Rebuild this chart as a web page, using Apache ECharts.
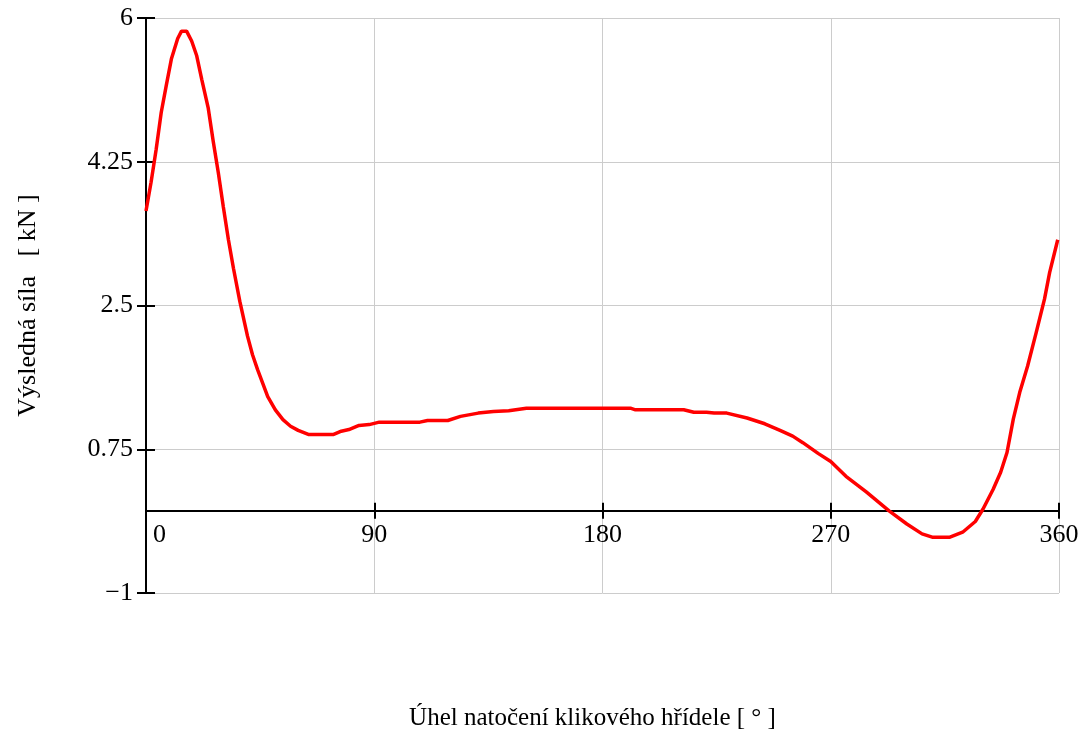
<!DOCTYPE html>
<html>
<head>
<meta charset="utf-8">
<title>Výsledná síla</title>
<style>
html,body{margin:0;padding:0;background:#fff;}
#main{width:1090px;height:729px;}
</style>
</head>
<body>
<div id="main"></div>
<script src="https://cdn.jsdelivr.net/npm/echarts@6/dist/echarts.min.js"></script>
<script type="text/javascript">
// úhel klikového hřídele [°]
var angles = [0, 2, 4, 6, 8, 10, 12.5, 14, 16, 18, 20, 22, 24.5, 26.5, 28.5, 30.5, 32.5, 34.5, 37, 40,
  42, 44, 48, 51, 54, 57, 60, 64, 74, 77, 80, 84, 88, 92, 108, 111, 119, 124, 131, 137,
  143, 150, 191, 193, 212, 216, 221, 224, 229, 237, 244, 250, 255, 259, 265, 270, 276, 284, 293, 300,
  306, 310, 317, 322, 327, 330, 334, 337, 339.5, 342, 344.5, 347.6, 351, 354.3, 356.3, 359.5];
// výsledná síla [kN]
var forces = [3.65, 4.0, 4.4, 4.85, 5.18, 5.5, 5.75, 5.84, 5.84, 5.72, 5.54, 5.25, 4.91, 4.5, 4.12, 3.7, 3.3, 2.95, 2.55, 2.13,
  1.9, 1.72, 1.39, 1.23, 1.11, 1.03, 0.98, 0.93, 0.93, 0.97, 0.99, 1.04, 1.05, 1.08, 1.08, 1.10, 1.10, 1.15, 1.19, 1.21,
  1.22, 1.25, 1.25, 1.23, 1.23, 1.20, 1.20, 1.19, 1.19, 1.13, 1.06, 0.98, 0.91, 0.83, 0.70, 0.60, 0.42, 0.23, 0.0, -0.16,
  -0.28, -0.32, -0.32, -0.26, -0.13, 0.02, 0.26, 0.47, 0.71, 1.12, 1.44, 1.76, 2.17, 2.58, 2.90, 3.30];
var xTicks = [0, 90, 180, 270, 360];
var yTicks = [-1, 0.75, 2.5, 4.25, 6];

var serif = '"Liberation Serif", "DejaVu Serif", serif';
var data = angles.map(function (a, i) { return [a, forces[i]]; });

var yMin = yTicks[0], yMax = yTicks[yTicks.length - 1];
var chartH = 729, gridTop = 18, gridBottom = 136;
// poloha nulové osy x (popisky os jsou u ní, ne u spodního okraje)
var zeroY = gridTop + (chartH - gridTop - gridBottom) * yMax / (yMax - yMin);
var gridBox = { left: 146, right: 31, top: gridTop, bottom: gridBottom, outerBoundsMode: 'none', containLabel: false };

var myChart = echarts.init(document.getElementById('main'));
var option = {
    animation: false,
    grid: [
        gridBox,
        Object.assign({}, gridBox),                            // značky dovnitř
        Object.assign({}, gridBox, { bottom: chartH - zeroY })  // popisky u nuly
    ],
    xAxis: [
        {
            gridIndex: 0, type: 'value',
            min: xTicks[0], max: xTicks[xTicks.length - 1], interval: 90,
            axisLine: { onZero: true, lineStyle: { color: '#000', width: 2 } },
            axisTick: { inside: false, length: 8, lineStyle: { color: '#000', width: 2 } },
            axisLabel: { show: false },
            splitLine: { show: true, lineStyle: { color: '#cccccc', width: 1 } }
        },
        {
            gridIndex: 1, type: 'value',
            min: xTicks[0], max: xTicks[xTicks.length - 1], interval: 90,
            axisLine: { onZero: true, lineStyle: { color: '#000', width: 2 } },
            axisTick: { inside: true, length: 8, lineStyle: { color: '#000', width: 2 } },
            axisLabel: { show: false },
            splitLine: { show: false }
        },
        {
            gridIndex: 2, type: 'value', position: 'bottom',
            min: xTicks[0], max: xTicks[xTicks.length - 1], interval: 90,
            name: 'Úhel natočení klikového hřídele [ ° ]',
            nameLocation: 'middle', nameGap: 195,
            nameTextStyle: { fontFamily: serif, fontSize: 25, color: '#000', padding: [0, 20, 0, 0] },
            axisLine: { show: false, onZero: false },
            axisTick: { show: false },
            axisLabel: {
                fontFamily: serif, fontSize: 26, color: '#000', margin: 11, alignMinLabel: 'left',
                showMinLabel: true, showMaxLabel: true,
                formatter: function (v) { return v === 0 ? '{z|0}' : String(v); },
                rich: { z: { fontFamily: serif, fontSize: 26, color: '#000', padding: [0, 0, 0, 7] } }
            },
            splitLine: { show: false }
        }
    ],
    yAxis: [
        {
            gridIndex: 0, type: 'value',
            min: yMin, max: yMax, interval: 1.75,
            name: 'Výsledná síla   [ kN ]',
            nameLocation: 'middle', nameGap: 105,
            nameTextStyle: { fontFamily: serif, fontSize: 26, color: '#000' },
            axisLine: { onZero: false, lineStyle: { color: '#000', width: 2 } },
            axisTick: { inside: false, length: 9, lineStyle: { color: '#000', width: 2 } },
            axisLabel: {
                fontFamily: serif, fontSize: 26, color: '#000', margin: 13, padding: [6, 0, 0, 0],
                formatter: function (v) { return String(v).replace('-', '\u2212'); }
            },
            splitLine: { show: true, lineStyle: { color: '#cccccc', width: 1 } }
        },
        {
            gridIndex: 1, type: 'value',
            min: yMin, max: yMax, interval: 1.75,
            axisLine: { onZero: false, lineStyle: { color: '#000', width: 2 } },
            axisTick: { inside: true, length: 9, lineStyle: { color: '#000', width: 2 } },
            axisLabel: { show: false },
            splitLine: { show: false }
        },
        {
            gridIndex: 2, type: 'value', show: false,
            min: 0, max: 1
        }
    ],
    series: [
        {
            type: 'line',
            xAxisIndex: 0, yAxisIndex: 0,
            data: data,
            showSymbol: false,
            smooth: false,
            lineStyle: { color: '#ff0000', width: 3.5 },
            z: 5
        }
    ]
};
myChart.setOption(option);
</script>
</body>
</html>
